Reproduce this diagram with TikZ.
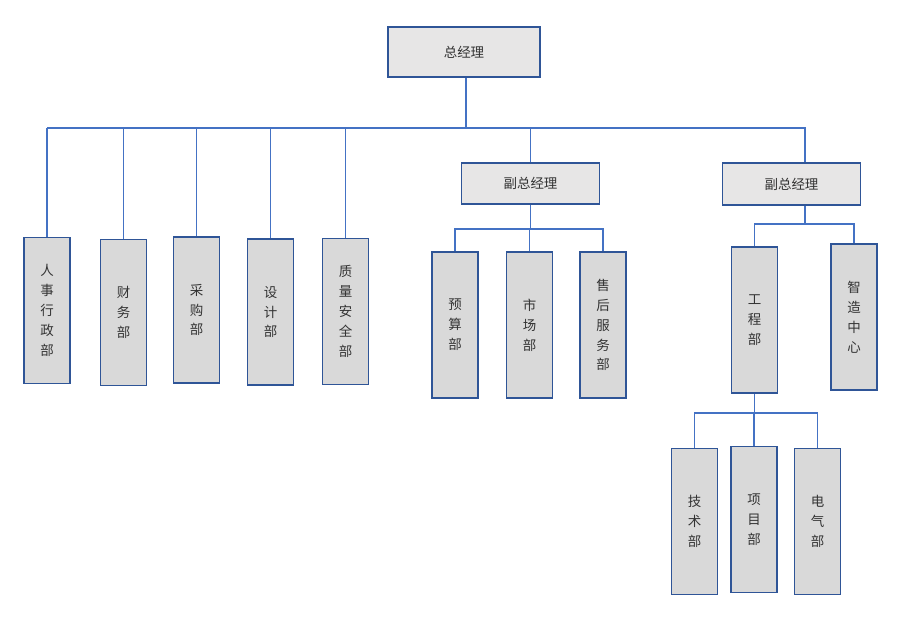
\documentclass[tikz,border=0pt]{standalone}
\usepackage{fontspec}
\setmainfont{Noto Sans CJK SC}
\definecolor{boxline}{HTML}{2F5597}
\definecolor{linkline}{HTML}{4472C4}
\definecolor{boxfill}{HTML}{D9D9D9}
\definecolor{headfill}{HTML}{E7E6E6}

\begin{document}
\begin{tikzpicture}[
  x=0.03cm, y=-0.03cm,
  box/.style={draw=boxline, line width=1.5pt, align=center, inner sep=0pt, font=\fontsize{11.5}{17}\selectfont, text=black!80},
  head/.style={box, fill=headfill, minimum width=4.14cm, minimum height=1.24cm},
  dept/.style={box, fill=boxfill, minimum width=1.38cm, minimum height=4.38cm},
  link/.style={draw=linkline, line width=1.2pt}
]
  \useasboundingbox (0,0) rectangle (900,622);

  % managers
  \node[head, minimum width=4.56cm, minimum height=1.5cm] (gm) at (464,52) {总经理};
  \node[head] (vp1) at (530.5,183.5) {副总经理};
  \node[head] (vp2) at (791.5,184) {副总经理};

  % departments under the general manager
  \node[dept] (hr)  at (47,310.5)  {人\\事\\行\\政\\部};
  \node[dept] (fin) at (123.5,312.5) {财\\务\\部};
  \node[dept] (pur) at (196.5,310) {采\\购\\部};
  \node[dept] (des) at (270.5,312) {设\\计\\部};
  \node[dept] (qs)  at (345.5,311.5) {质\\量\\安\\全\\部};

  % first deputy
  \node[dept] (bud) at (455,325)   {预\\算\\部};
  \node[dept] (mkt) at (529.5,325) {市\\场\\部};
  \node[dept] (svc) at (603,325)   {售\\后\\服\\务\\部};

  % second deputy
  \node[dept] (eng) at (754.5,320) {工\\程\\部};
  \node[dept] (smt) at (854,317)   {智\\造\\中\\心};
  \node[dept] (tech) at (694.5,521.5) {技\\术\\部};
  \node[dept] (proj) at (754,519.5)   {项\\目\\部};
  \node[dept] (elec) at (817.5,521.5) {电\\气\\部};

  % main bus
  \coordinate (bus) at (466,128);
  \coordinate (bus2) at (805,128);
  \draw[link] (gm.south -| bus) -- (bus);
  \draw[link] (hr.north |- bus) -- (bus2) -- (bus2 |- vp2.north);
  \foreach \n in {hr,fin,pur,des,qs,vp1}
    \draw[link] (\n.north) -- (\n.north |- bus);

  % first deputy bus
  \coordinate (vp1bus) at (532,229);
  \draw[link] (vp1.south) -- (vp1.south |- vp1bus);
  \draw[link] (bud.north) |- (svc.north |- vp1bus) -- (svc.north);
  \draw[link] (mkt.north) -- (mkt.north |- vp1bus);

  % second deputy bus
  \coordinate (vp2bus) at (805,224);
  \draw[link] (bus2 |- vp2.south) -- (vp2bus);
  \draw[link] (eng.north) |- (smt.north |- vp2bus) -- (smt.north);

  % engineering bus
  \coordinate (engbus) at (756,413);
  \draw[link] (eng.south) -- (eng.south |- engbus);
  \draw[link] (tech.north) |- (elec.north |- engbus) -- (elec.north);
  \draw[link] (proj.north) -- (proj.north |- engbus);
\end{tikzpicture}
\end{document}
